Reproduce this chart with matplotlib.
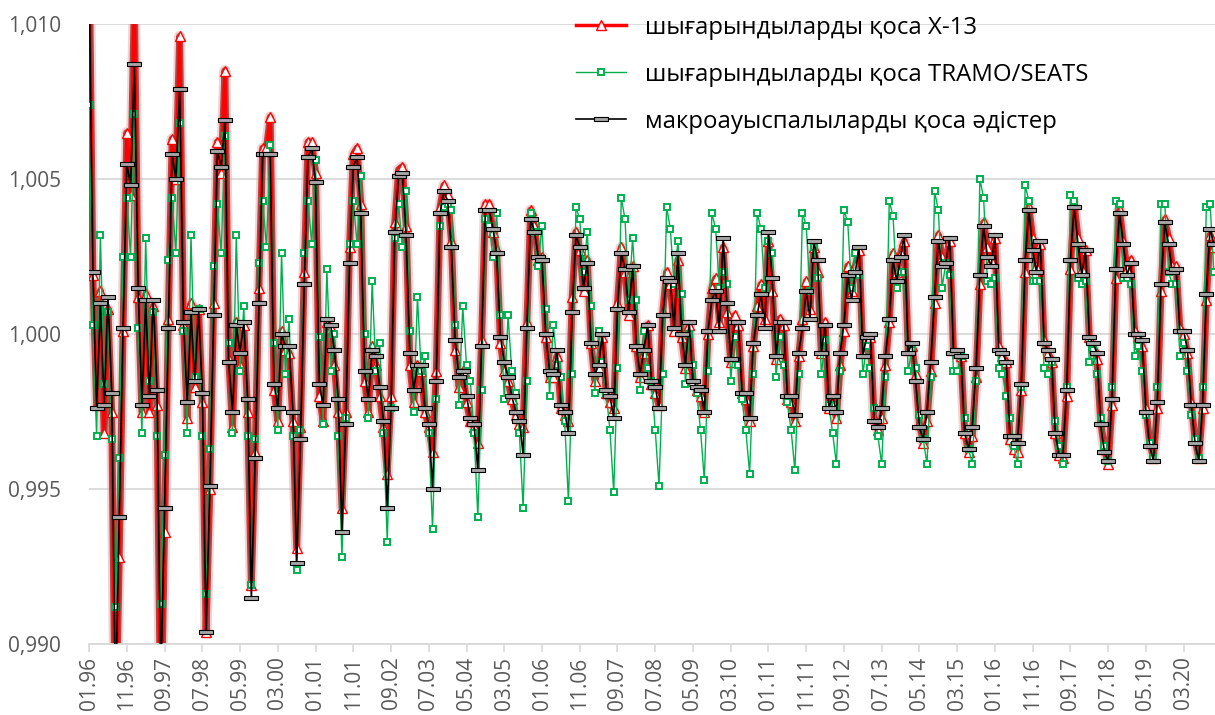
import matplotlib
matplotlib.use("Agg")
import matplotlib.pyplot as plt
from matplotlib.path import Path
from matplotlib.ticker import FuncFormatter
import numpy as np

plt.rcParams['font.family'] = ['Open Sans', 'DejaVu Sans']

# seasonal factors, monthly 01.1996 - 11.2020 (one row = one year)
x13 = [
    1.0128, 1.0019, 0.9977, 1.0014, 0.9968, 1.0008, 0.9975, 0.9865, 0.9928, 1.0001, 1.0065, 1.0045,
    1.0108, 1.0012, 0.9975, 1.0013, 0.9975, 1.0009, 0.9977, 0.9870, 0.9936, 1.0005, 1.0063, 1.0050,
    1.0096, 1.0003, 0.9973, 1.0010, 0.9983, 1.0008, 0.9978, 0.9904, 0.9950, 1.0010, 1.0062, 1.0052,
    1.0085, 0.9992, 0.9970, 1.0004, 0.9990, 1.0003, 0.9975, 0.9919, 0.9962, 1.0015, 1.0060, 1.0060,
    1.0070, 0.9982, 0.9972, 1.0001, 0.9995, 0.9994, 0.9972, 0.9931, 0.9970, 1.0020, 1.0062, 1.0062,
    1.0052, 0.9980, 0.9972, 1.0004, 1.0002, 0.9990, 0.9975, 0.9944, 0.9975, 1.0028, 1.0058, 1.0060,
    1.0042, 0.9985, 0.9975, 0.9996, 0.9990, 0.9980, 0.9970, 0.9955, 0.9980, 1.0036, 1.0053, 1.0054,
    1.0035, 0.9990, 0.9978, 0.9990, 0.9988, 0.9975, 0.9970, 0.9962, 0.9988, 1.0041, 1.0048, 1.0045,
    1.0030, 0.9995, 0.9983, 0.9988, 0.9978, 0.9972, 0.9970, 0.9965, 0.9998, 1.0042, 1.0042, 1.0033,
    1.0027, 0.9997, 0.9988, 0.9985, 0.9979, 0.9974, 0.9971, 0.9970, 1.0004, 1.0040, 1.0035, 1.0024,
    1.0025, 0.9999, 0.9986, 0.9986, 0.9993, 0.9976, 0.9974, 0.9972, 1.0012, 1.0033, 1.0027, 1.0014,
    1.0024, 0.9997, 0.9985, 0.9989, 0.9999, 0.9981, 0.9978, 0.9976, 1.0010, 1.0028, 1.0020, 1.0006,
    1.0022, 0.9996, 0.9986, 0.9994, 1.0003, 0.9984, 0.9981, 0.9977, 1.0007, 1.0020, 1.0016, 1.0001,
    1.0024, 0.9999, 0.9989, 1.0003, 0.9985, 0.9982, 0.9980, 0.9975, 1.0000, 1.0015, 1.0018, 1.0004,
    1.0028, 1.0007, 0.9991, 1.0006, 1.0003, 0.9981, 0.9979, 0.9972, 0.9996, 1.0009, 1.0016, 1.0005,
    1.0030, 1.0014, 0.9992, 1.0005, 1.0003, 0.9979, 0.9978, 0.9972, 0.9993, 1.0005, 1.0017, 1.0008,
    1.0028, 1.0020, 0.9994, 1.0004, 0.9976, 0.9978, 0.9973, 0.9990, 1.0001, 1.0022, 1.0014, 1.0022,
    1.0027, 0.9994, 0.9999, 0.9999, 0.9973, 0.9969, 0.9973, 0.9990, 1.0004, 1.0026, 1.0020, 1.0026,
    1.0030, 0.9995, 0.9996, 0.9987, 0.9971, 0.9965, 0.9972, 0.9988, 1.0010, 1.0032, 1.0025, 1.0024,
    1.0030, 0.9995, 0.9994, 0.9993, 0.9968, 0.9962, 0.9967, 0.9986, 1.0016, 1.0036, 1.0028, 1.0024,
    1.0031, 0.9996, 0.9993, 0.9991, 0.9966, 0.9963, 0.9962, 0.9982, 1.0020, 1.0041, 1.0031, 1.0022,
    1.0029, 0.9998, 0.9994, 0.9991, 0.9968, 0.9961, 0.9960, 0.9980, 1.0021, 1.0042, 1.0031, 1.0021,
    1.0027, 0.9999, 0.9996, 0.9992, 0.9972, 0.9963, 0.9958, 0.9977, 1.0018, 1.0040, 1.0030, 1.0021,
    1.0024, 1.0001, 0.9999, 0.9996, 0.9976, 0.9965, 0.9960, 0.9976, 1.0014, 1.0037, 1.0031, 1.0022,
    1.0022, 1.0002, 1.0000, 0.9994, 0.9978, 0.9966, 0.9960, 0.9976, 1.0011, 1.0032, 1.0028,
]

tramo = [
    1.0074, 1.0003, 0.9967, 1.0032, 0.9984, 1.0007, 0.9966, 0.9912, 0.9960, 1.0025, 1.0044, 1.0025,
    1.0071, 1.0002, 0.9968, 1.0031, 0.9985, 1.0007, 0.9967, 0.9913, 0.9961, 1.0024, 1.0044, 1.0026,
    1.0068, 1.0001, 0.9968, 1.0032, 0.9986, 1.0008, 0.9967, 0.9916, 0.9963, 1.0022, 1.0042, 1.0026,
    1.0064, 0.9997, 0.9968, 1.0032, 0.9988, 1.0009, 0.9967, 0.9919, 0.9966, 1.0023, 1.0043, 1.0028,
    1.0061, 0.9997, 0.9969, 1.0026, 0.9987, 1.0005, 0.9967, 0.9924, 0.9969, 1.0026, 1.0043, 1.0029,
    1.0056, 0.9999, 0.9971, 1.0021, 0.9988, 1.0000, 0.9967, 0.9928, 0.9973, 1.0029, 1.0043, 1.0029,
    1.0051, 1.0000, 0.9973, 1.0017, 0.9988, 0.9997, 0.9968, 0.9933, 0.9976, 1.0031, 1.0042, 1.0028,
    1.0046, 1.0001, 0.9975, 1.0012, 0.9988, 0.9993, 0.9968, 0.9937, 0.9979, 1.0035, 1.0041, 1.0042,
    1.0040, 1.0003, 0.9977, 1.0009, 0.9990, 0.9985, 0.9968, 0.9941, 0.9982, 1.0037, 1.0035, 1.0025,
    1.0039, 1.0006, 0.9979, 1.0006, 0.9988, 0.9981, 0.9968, 0.9944, 0.9985, 1.0039, 1.0033, 1.0022,
    1.0035, 1.0008, 0.9980, 1.0003, 0.9990, 0.9986, 0.9972, 0.9946, 0.9987, 1.0041, 1.0037, 1.0020,
    1.0033, 1.0009, 0.9981, 1.0001, 0.9991, 0.9981, 0.9969, 0.9949, 0.9989, 1.0044, 1.0037, 1.0011,
    1.0031, 1.0011, 0.9982, 1.0001, 0.9989, 0.9985, 0.9969, 0.9951, 0.9987, 1.0041, 1.0034, 1.0016,
    1.0030, 1.0013, 0.9984, 1.0000, 0.9990, 0.9981, 0.9969, 0.9953, 0.9988, 1.0039, 1.0034, 1.0015,
    1.0020, 1.0016, 0.9985, 0.9999, 0.9990, 0.9979, 0.9969, 0.9955, 0.9987, 1.0039, 1.0034, 1.0015,
    1.0030, 1.0026, 0.9986, 0.9999, 0.9990, 0.9978, 0.9969, 0.9956, 0.9987, 1.0039, 1.0035, 1.0014,
    1.0028, 1.0018, 0.9987, 0.9998, 0.9977, 0.9968, 0.9958, 0.9988, 1.0040, 1.0036, 1.0015, 1.0026,
    1.0019, 0.9987, 0.9996, 0.9989, 0.9976, 0.9967, 0.9958, 0.9986, 1.0043, 1.0038, 1.0015, 1.0020,
    1.0020, 0.9988, 0.9995, 0.9989, 0.9974, 0.9966, 0.9958, 0.9986, 1.0046, 1.0040, 1.0015, 1.0023,
    1.0019, 0.9988, 0.9988, 0.9993, 0.9973, 0.9963, 0.9958, 0.9985, 1.0050, 1.0044, 1.0017, 1.0016,
    1.0018, 0.9989, 0.9987, 0.9980, 0.9973, 0.9964, 0.9958, 0.9983, 1.0048, 1.0043, 1.0017, 1.0017,
    1.0017, 0.9989, 0.9987, 0.9991, 0.9972, 0.9964, 0.9958, 0.9983, 1.0045, 1.0043, 1.0018, 1.0016,
    1.0017, 0.9991, 0.9995, 0.9987, 0.9973, 0.9964, 0.9959, 0.9983, 1.0043, 1.0042, 1.0018, 1.0018,
    1.0016, 0.9993, 0.9996, 0.9988, 0.9974, 0.9965, 0.9960, 0.9983, 1.0042, 1.0042, 1.0020, 1.0016,
    1.0016, 0.9993, 0.9997, 0.9988, 0.9974, 0.9966, 0.9960, 0.9983, 1.0041, 1.0042, 1.0020,
]

macro = [
    1.0118, 1.0020, 0.9976, 1.0010, 0.9977, 1.0012, 0.9981, 0.9880, 0.9941, 1.0002, 1.0055, 1.0048,
    1.0087, 1.0015, 0.9977, 1.0011, 0.9980, 1.0011, 0.9982, 0.9886, 0.9944, 1.0002, 1.0058, 1.0050,
    1.0079, 1.0004, 0.9978, 1.0007, 0.9985, 1.0008, 0.9981, 0.9904, 0.9951, 1.0006, 1.0059, 1.0054,
    1.0069, 0.9991, 0.9975, 1.0003, 0.9994, 1.0004, 0.9979, 0.9915, 0.9960, 1.0010, 1.0058, 1.0058,
    1.0058, 0.9984, 0.9976, 1.0000, 0.9996, 0.9996, 0.9975, 0.9926, 0.9966, 1.0016, 1.0057, 1.0060,
    1.0049, 0.9984, 0.9977, 1.0005, 1.0003, 0.9995, 0.9979, 0.9936, 0.9971, 1.0023, 1.0054, 1.0057,
    1.0039, 0.9988, 0.9979, 0.9995, 0.9993, 0.9983, 0.9972, 0.9944, 0.9976, 1.0033, 1.0051, 1.0052,
    1.0032, 0.9994, 0.9982, 0.9990, 0.9990, 0.9976, 0.9971, 0.9950, 0.9985, 1.0039, 1.0046, 1.0043,
    1.0028, 0.9998, 0.9986, 0.9988, 0.9980, 0.9973, 0.9971, 0.9956, 0.9996, 1.0040, 1.0040, 1.0034,
    1.0026, 0.9999, 0.9991, 0.9986, 0.9980, 0.9975, 0.9972, 0.9961, 1.0002, 1.0037, 1.0033, 1.0025,
    1.0024, 1.0000, 0.9988, 0.9987, 0.9995, 0.9977, 0.9975, 0.9968, 1.0007, 1.0032, 1.0028, 1.0015,
    1.0023, 0.9997, 0.9987, 0.9990, 1.0000, 0.9982, 0.9980, 0.9973, 1.0008, 1.0026, 1.0021, 1.0007,
    1.0022, 0.9996, 0.9987, 0.9995, 1.0003, 0.9985, 0.9983, 0.9976, 1.0006, 1.0018, 1.0017, 1.0002,
    1.0026, 1.0000, 0.9990, 1.0004, 0.9985, 0.9983, 0.9982, 0.9975, 1.0001, 1.0011, 1.0014, 1.0001,
    1.0031, 1.0010, 0.9992, 1.0004, 1.0004, 0.9981, 0.9981, 0.9973, 0.9997, 1.0006, 1.0013, 1.0002,
    1.0033, 1.0018, 0.9993, 1.0004, 1.0004, 0.9980, 0.9980, 0.9974, 0.9994, 1.0002, 1.0014, 1.0005,
    1.0030, 1.0024, 0.9994, 1.0003, 0.9976, 0.9980, 0.9975, 0.9994, 1.0003, 1.0019, 1.0011, 1.0020,
    1.0028, 0.9993, 0.9999, 1.0000, 0.9972, 0.9970, 0.9976, 0.9993, 1.0005, 1.0024, 1.0017, 1.0025,
    1.0032, 0.9994, 0.9997, 0.9985, 0.9970, 0.9966, 0.9975, 0.9991, 1.0012, 1.0030, 1.0022, 1.0023,
    1.0031, 0.9994, 0.9995, 0.9993, 0.9968, 0.9963, 0.9970, 0.9989, 1.0019, 1.0035, 1.0025, 1.0022,
    1.0032, 0.9995, 0.9994, 0.9991, 0.9967, 0.9967, 0.9965, 0.9984, 1.0024, 1.0040, 1.0027, 1.0020,
    1.0030, 0.9997, 0.9995, 0.9992, 0.9968, 0.9961, 0.9961, 0.9982, 1.0024, 1.0041, 1.0029, 1.0019,
    1.0027, 0.9999, 0.9997, 0.9994, 0.9971, 0.9962, 0.9959, 0.9979, 1.0021, 1.0039, 1.0029, 1.0019,
    1.0023, 1.0000, 1.0000, 0.9998, 0.9975, 0.9964, 0.9959, 0.9978, 1.0016, 1.0036, 1.0029, 1.0020,
    1.0021, 1.0001, 1.0001, 0.9995, 0.9977, 0.9965, 0.9959, 0.9977, 1.0013, 1.0034, 1.0029,
]

start_year = 1996
series_names = ['шығарындыларды қоса X-13',
                'шығарындыларды қоса TRAMO/SEATS',
                'макроауыспалыларды қоса әдістер']

assert len(x13) == len(tramo) == len(macro)
n = len(macro)
x = np.arange(n)

# month labels every 10 months: 01.96, 11.96, ...
tick_pos = list(range(0, n, 10))
tick_lab = ['%02d.%02d' % (i % 12 + 1, (start_year + i // 12) % 100) for i in tick_pos]

fig = plt.figure(figsize=(12.15, 7.15), dpi=100)
ax = fig.add_axes([0.0733, 0.0993, 0.9267, 0.867])

# flat rectangle marker for the macro series
rect = Path([(-1, -0.3), (1, -0.3), (1, 0.3), (-1, 0.3), (-1, -0.3)],
            [Path.MOVETO, Path.LINETO, Path.LINETO, Path.LINETO, Path.CLOSEPOLY])

# dark-red shadow under the X-13 line
ax.plot(x, x13, color='#e4a8a8', lw=8, alpha=0.5, zorder=1, solid_capstyle='round')
ax.plot(x, x13, color='#a83838', lw=5, alpha=0.9, zorder=1, solid_capstyle='round')

l1, = ax.plot(x, x13, color='#ff0000', lw=2.5, marker='^', ms=6.5, mfc='white',
              mec='#ff0000', mew=1.0, zorder=2, label=series_names[0])
l2, = ax.plot(x, tramo, color='#00b050', lw=1.0, marker='s', ms=4.8, mfc='white',
              mec='#00b050', mew=1.4, zorder=3, label=series_names[1])
l3, = ax.plot(x, macro, color='black', lw=1.2, marker=rect, ms=10, mfc='#a6a6a6',
              mec='black', mew=0.8, zorder=4, label=series_names[2])

ax.set_xlim(0, n - 0.7)
ax.set_ylim(0.990, 1.010)
ax.set_yticks([0.990, 0.995, 1.000, 1.005, 1.010])
ax.yaxis.set_major_formatter(FuncFormatter(lambda v, p: ('%.3f' % v).replace('.', ',')))
ax.set_xticks(tick_pos)
ax.set_xticklabels(tick_lab, rotation=90)

ax.grid(axis='y', color='#d9d9d9', lw=1.3)
ax.set_axisbelow(True)
for s in ['top', 'right', 'left']:
    ax.spines[s].set_visible(False)
ax.spines['bottom'].set_color('#d9d9d9')
ax.spines['bottom'].set_linewidth(1.3)
ax.tick_params(axis='y', length=0, labelsize=15, labelcolor='#595959', pad=20)
ax.tick_params(axis='x', length=6, width=1.2, color='#d9d9d9', labelsize=15,
               labelcolor='#595959', pad=3)

fig.legend(handles=[l1, l2, l3], loc='upper left', bbox_to_anchor=(0.456, 1.008),
           frameon=False, fontsize=17.3, handlelength=2.1, handletextpad=0.8,
           labelspacing=0.95)

fig.savefig('out.png', dpi=100)
